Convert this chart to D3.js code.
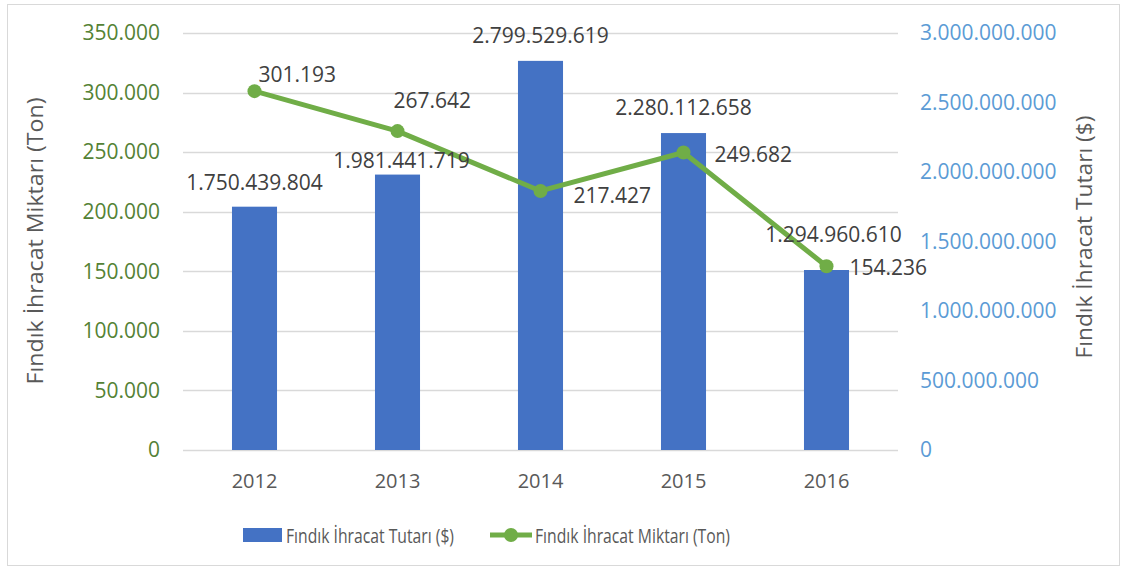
<!DOCTYPE html>
<html>
<head>
<meta charset="utf-8">
<script src="https://cdn.jsdelivr.net/npm/d3@7"></script>
<style>
  body { margin: 0; background: #fff; }
  text { font-family: "Open Sans", sans-serif; }
</style>
</head>
<body>
<div id="chart"></div>
<script>
////////// data //////////
var years       = ["2012", "2013", "2014", "2015", "2016"];
var exportValue = [1750439804, 1981441719, 2799529619, 2280112658, 1294960610]; // $
var exportTons  = [301193, 267642, 217427, 249682, 154236];                   // ton
var leftTicks   = [0, 50000, 100000, 150000, 200000, 250000, 300000, 350000];
var rightTicks  = [0, 500000000, 1000000000, 1500000000, 2000000000, 2500000000, 3000000000];

// hand nudges for data labels (Excel places them individually)
var barLabelNudge  = [[0, -17], [4, -7], [0, -18], [0, -18], [7, -28]];
var lineLabelNudge = [[4, -9], [-4, -23], [33, 12], [31, 9], [23, 9]];

var width  = 1123,
    height = 569,
    margin = {top: 33, right: 225, bottom: 119, left: 183};

var blue  = "#4472C4",
    green = "#70AD47",
    grey  = "#595959";

// turkish style thousands separator
var fmt = d3.formatLocale({decimal: ",", thousands: ".", grouping: [3], currency: ["", ""]}).format(",d");

var svg = d3.select("#chart").append("svg")
    .attr("width", width)
    .attr("height", height);

// outer chart frame
svg.append("rect")
    .attr("x", 7.5).attr("y", 4.5)
    .attr("width", 1112).attr("height", 561)
    .attr("fill", "none")
    .attr("stroke", "#d9d9d9");

var x = d3.scaleBand()
    .domain(years)
    .range([margin.left, width - margin.right])
    .paddingInner(0.685)
    .paddingOuter(0.3425);

var yL = d3.scaleLinear()
    .domain([0, 350000])
    .range([height - margin.bottom, margin.top]);

var yR = d3.scaleLinear()
    .domain([0, 3000000000])
    .range(yL.range());

// gridlines
svg.append("g")
    .selectAll("line")
    .data(leftTicks).enter()
    .append("line")
    .attr("x1", margin.left)
    .attr("x2", width - margin.right)
    .attr("y1", d => Math.round(yL(d)) + 0.5)
    .attr("y2", d => Math.round(yL(d)) + 0.5)
    .attr("stroke", "#d9d9d9")
    .attr("stroke-width", 1.5);

// left axis
var leftAxis = svg.append("g")
    .attr("transform", "translate(" + (margin.left - 23) + ",0)")
    .call(d3.axisLeft(yL).tickValues(leftTicks).tickFormat(fmt).tickSize(0).tickPadding(0));
leftAxis.select(".domain").remove();
leftAxis.selectAll("text")
    .attr("fill", "#548235")
    .attr("font-size", 21)
    .style("font-family", "'Open Sans', sans-serif");

// right axis
var rightAxis = svg.append("g")
    .attr("transform", "translate(" + (width - margin.right + 22) + ",0)")
    .call(d3.axisRight(yR).tickValues(rightTicks).tickFormat(fmt).tickSize(0).tickPadding(0));
rightAxis.select(".domain").remove();
rightAxis.selectAll("text")
    .attr("fill", "#5B9BD5")
    .attr("font-size", 21)
    .style("font-family", "'Open Sans', sans-serif");

// category axis
var bottomAxis = svg.append("g")
    .attr("transform", "translate(0," + (height - margin.bottom) + ")")
    .call(d3.axisBottom(x).tickSize(0).tickPadding(24));
bottomAxis.select(".domain").remove();
bottomAxis.selectAll("text")
    .attr("fill", grey)
    .attr("font-size", 20)
    .style("font-family", "'Open Sans', sans-serif");

// axis titles
svg.append("text")
    .attr("transform", "translate(43,241) rotate(-90)")
    .attr("text-anchor", "middle")
    .attr("fill", grey)
    .attr("font-size", 22)
    .attr("textLength", 287)
    .attr("lengthAdjust", "spacingAndGlyphs")
    .text("Fındık İhracat Miktarı (Ton)");

svg.append("text")
    .attr("transform", "translate(1092,237) rotate(-90)")
    .attr("text-anchor", "middle")
    .attr("fill", grey)
    .attr("font-size", 22)
    .attr("textLength", 243)
    .attr("lengthAdjust", "spacingAndGlyphs")
    .text("Fındık İhracat Tutarı ($)");

// bars
svg.append("g")
    .selectAll("rect")
    .data(exportValue).enter()
    .append("rect")
    .attr("x", (d, i) => x(years[i]))
    .attr("width", x.bandwidth())
    .attr("y", d => yR(d))
    .attr("height", d => yR(0) - yR(d))
    .attr("fill", blue);

// line
var line = d3.line()
    .x((d, i) => x(years[i]) + x.bandwidth() / 2)
    .y(d => yL(d));

svg.append("path")
    .datum(exportTons)
    .attr("d", line)
    .attr("fill", "none")
    .attr("stroke", green)
    .attr("stroke-width", 5)
    .attr("stroke-linejoin", "round");

svg.append("g")
    .selectAll("circle")
    .data(exportTons).enter()
    .append("circle")
    .attr("cx", (d, i) => x(years[i]) + x.bandwidth() / 2)
    .attr("cy", d => yL(d))
    .attr("r", 7)
    .attr("fill", green);

// bar labels
svg.append("g")
    .selectAll("text")
    .data(exportValue).enter()
    .append("text")
    .attr("x", (d, i) => x(years[i]) + x.bandwidth() / 2 + barLabelNudge[i][0])
    .attr("y", (d, i) => yR(d) + barLabelNudge[i][1])
    .attr("text-anchor", "middle")
    .attr("fill", "#404040")
    .attr("font-size", 21)
    .text(d => fmt(d));

// line labels
svg.append("g")
    .selectAll("text")
    .data(exportTons).enter()
    .append("text")
    .attr("x", (d, i) => x(years[i]) + x.bandwidth() / 2 + lineLabelNudge[i][0])
    .attr("y", (d, i) => yL(d) + lineLabelNudge[i][1])
    .attr("fill", "#404040")
    .attr("font-size", 21)
    .text(d => fmt(d));

// legend
var legend = svg.append("g");

legend.append("rect")
    .attr("x", 243).attr("y", 528)
    .attr("width", 39).attr("height", 14)
    .attr("fill", blue);

legend.append("text")
    .attr("x", 286).attr("y", 543)
    .attr("fill", grey)
    .attr("font-size", 20)
    .attr("textLength", 168)
    .attr("lengthAdjust", "spacingAndGlyphs")
    .text("Fındık İhracat Tutarı ($)");

legend.append("line")
    .attr("x1", 490).attr("x2", 532)
    .attr("y1", 535).attr("y2", 535)
    .attr("stroke", green)
    .attr("stroke-width", 5);

legend.append("circle")
    .attr("cx", 511).attr("cy", 535)
    .attr("r", 7)
    .attr("fill", green);

legend.append("text")
    .attr("x", 535).attr("y", 543)
    .attr("fill", grey)
    .attr("font-size", 20)
    .attr("textLength", 195)
    .attr("lengthAdjust", "spacingAndGlyphs")
    .text("Fındık İhracat Miktarı (Ton)");
</script>
</body>
</html>
